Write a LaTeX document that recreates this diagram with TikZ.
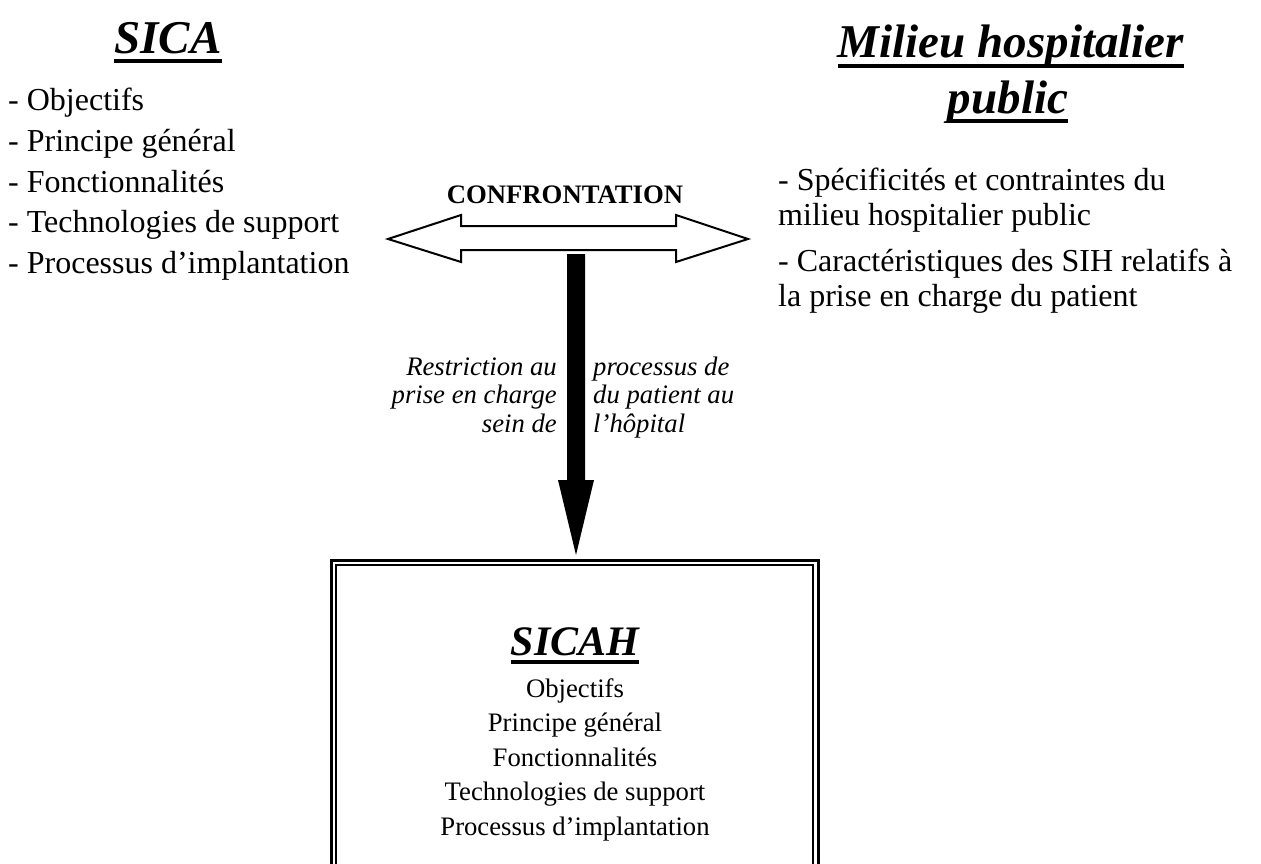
\documentclass[tikz,border=0pt]{standalone}
\usepackage{fontspec}
\setmainfont{Liberation Serif}
\begin{document}
\begin{tikzpicture}[x=1pt,y=-1pt,
  title/.style={font=\fontsize{47}{52}\selectfont\bfseries\itshape, inner sep=0, anchor=base},
  subtitle/.style={font=\fontsize{42}{48}\selectfont\bfseries\itshape, inner sep=0, anchor=base},
  item/.style={font=\fontsize{32}{38}\selectfont, inner sep=0, anchor=base west},
  note/.style={font=\fontsize{26.7}{30}\selectfont\itshape, inner sep=0},
  label/.style={font=\fontsize{26.7}{30}\selectfont\bfseries, inner sep=0, anchor=base},
  boxitem/.style={font=\fontsize{26.7}{30}\selectfont, inner sep=0, anchor=base},
  uline/.style={line width=4.5pt},
  hollow/.style={draw=black, line width=2pt, fill=white, line join=miter},
  solid arrow/.style={fill=black, draw=none}]
\useasboundingbox (0,0) rectangle (1261,864);
\clip (0,0) rectangle (1261,864);

% --- left title and list
\node[title] (sica) at (168,54) {SICA};
\draw[uline] ([yshift=-7pt]sica.base west) -- ([yshift=-7pt]sica.base east);
\node[item] (l1) at (8,111) {- Objectifs};
\node[item] (l2) at (8,152) {- Principe général};
\node[item] (l3) at (8,192) {- Fonctionnalités};
\node[item] (l4) at (8,232) {- Technologies de support};
\node[item] (l5) at (8,273) {- Processus d’implantation};

% --- right title and list
\node[title] (mil1) at (1011,58) {Milieu hospitalier};
\draw[uline] ([yshift=-8pt]mil1.base west) -- ([yshift=-8pt]mil1.base east);
\node[title] (mil2) at (1008,114) {public};
\draw[uline] ([yshift=-7pt]mil2.base west) -- ([yshift=-7pt]mil2.base east);
\node[item] (r1) at (778,190) {- Spécificités et contraintes du};
\node[item] (r2) at (778,225) {milieu hospitalier public};
\node[item] (r3) at (778,271) {- Caractéristiques des SIH relatifs à};
\node[item] (r4) at (778,306) {la prise en charge du patient};

% --- confrontation double arrow
\node[label] (conf) at (565,203) {CONFRONTATION};
\coordinate (dl) at (388,239);
\coordinate (dr) at (748,239);
\draw[hollow] (dl) -- (461,215) -- (461,226) -- (676,226) -- (676,215) -- (dr)
  -- (676,262) -- (676,250) -- (461,250) -- (461,262) -- cycle;

% --- restriction arrow
\coordinate (ds) at (576,254);
\coordinate (dt) at (576,555);
\fill[solid arrow] ([xshift=-9pt]ds) -- ([xshift=9pt]ds) -- (585,480) -- (594,480)
  -- (dt) -- (558,480) -- (567,480) -- cycle;
\node[note, anchor=base east] (n1) at (557,375) {Restriction au};
\node[note, anchor=base east] (n2) at (557,403) {prise en charge};
\node[note, anchor=base east] (n3) at (557,432) {sein de};
\node[note, anchor=base west] (n4) at (593,375) {processus de};
\node[note, anchor=base west] (n5) at (593,403) {du patient au};
\node[note, anchor=base west] (n6) at (593,432) {l’hôpital};

% --- SICAH box with double border
\draw[line width=3pt] (331,900) -- (331,560) -- (818,560) -- (818,900);
\draw[line width=1.6pt] (336,900) -- (336,565) -- (813,565) -- (813,900);
\node[subtitle] (sicah) at (575,655) {SICAH};
\draw[uline] ([yshift=-7pt]sicah.base west) -- ([yshift=-7pt]sicah.base east);
\node[boxitem] (b1) at (575,697) {Objectifs};
\node[boxitem] (b2) at (575,731.5) {Principe général};
\node[boxitem] (b3) at (575,766) {Fonctionnalités};
\node[boxitem] (b4) at (575,800.5) {Technologies de support};
\node[boxitem] (b5) at (575,835) {Processus d’implantation};
\end{tikzpicture}
\end{document}
